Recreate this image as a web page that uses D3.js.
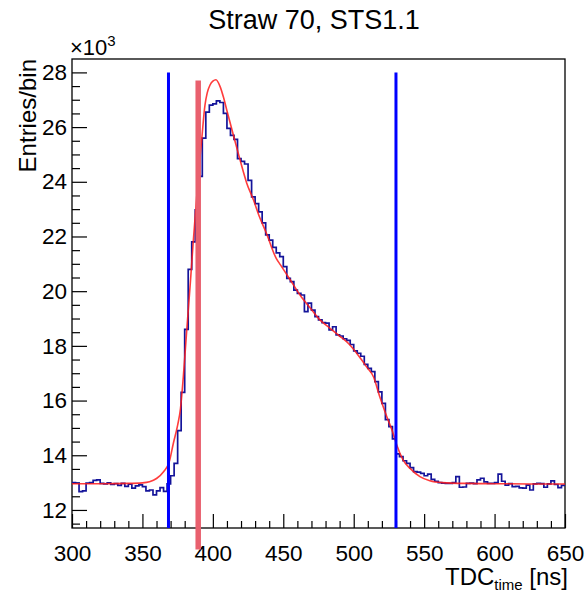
<!DOCTYPE html>
<html>
<head>
<meta charset="utf-8">
<script src="https://cdn.jsdelivr.net/npm/d3@7/dist/d3.min.js"></script>
<style>
  body { margin: 0; background: #fff; }
  svg { display: block; font-family: "Liberation Sans", Arial, sans-serif; }
</style>
</head>
<body>
<svg id="chart" width="587" height="594"></svg>
<script>
// histogram: 2.5 ns bins from 300 ns, entries in units of 10^3
var binLow = 300;
var binWidth = 2.5;
var entries = [
  13.00, 12.98, 12.67, 12.70, 12.98, 13.00, 13.08, 13.10, 12.97, 12.95,
  12.99, 12.93, 12.96, 12.90, 12.97, 12.86, 12.94, 12.80, 12.88, 12.92,
  12.85, 12.70, 12.73, 12.55, 12.70, 12.82, 12.68, 12.95, 13.25, 13.70,
  14.90, 16.30, 18.60, 20.80, 21.80, 22.97, 24.20, 25.60, 26.55, 26.80,
  26.85, 26.96, 26.90, 26.50, 25.95, 25.70, 25.55, 24.85, 24.75, 24.65,
  24.05, 23.45, 23.20, 22.90, 22.50, 22.06, 21.87, 21.60, 21.40, 21.26,
  20.90, 20.47, 20.35, 20.04, 19.92, 19.86, 19.25, 19.56, 19.31, 19.07,
  18.95, 18.85, 18.83, 18.58, 18.70, 18.40, 18.36, 18.26, 18.20, 18.05,
  17.82, 17.73, 17.62, 17.32, 17.18, 17.06, 16.69, 16.32, 15.90, 15.30,
  15.05, 14.60, 14.05, 13.95, 13.80, 13.70, 13.55, 13.40, 13.38, 13.34,
  13.25, 13.31, 13.12, 13.05, 13.00, 12.98, 12.97, 12.97, 13.00, 13.22,
  12.83, 12.84, 12.97, 12.98, 12.96, 13.10, 13.16, 13.03, 12.97, 12.97,
  13.00, 13.31, 13.05, 12.91, 12.96, 12.85, 12.86, 12.81, 12.80, 12.91,
  12.73, 12.95, 12.97, 12.96, 12.83, 12.95, 13.06, 12.93, 12.82, 12.90
];

// fitted curve (time in ns, value in 10^3)
var fitTime = [300, 320, 340, 350, 355, 360, 365, 369, 372, 375, 377, 379, 381.5, 384, 386,
  388, 390, 392, 394.4, 396, 398, 400, 402.2, 405, 407.5, 410, 414.6, 419.3, 424, 428.8,
  433, 438, 445, 448, 455, 462, 469, 476, 483, 490, 497, 504, 509, 514, 518.5,
  523.5, 528, 530.5, 535, 540, 547, 554, 563, 580, 600, 625, 650];
var fitValue = [12.96, 12.96, 12.97, 12.99, 13.03, 13.15, 13.40, 13.75, 14.45, 15.10, 15.70, 16.85, 18.60, 20.30, 21.75,
  23.10, 24.40, 25.50, 26.80, 27.25, 27.54, 27.68, 27.73, 27.50, 27.10, 26.60, 25.70, 24.80, 23.96, 23.34,
  22.73, 22.12, 21.20, 20.96, 20.41, 19.85, 19.39, 18.95, 18.65, 18.36, 18.05, 17.60, 17.24, 16.87, 16.14,
  15.41, 14.80, 14.38, 13.83, 13.52, 13.22, 13.07, 13.00, 12.97, 12.96, 12.95, 12.95];

// window cuts (blue) and the peak marker (red)
var cutTimes = [368.5, 530];
var cutTop = 28.0;
var peakTime = 389.6;
var peakRange = [10.55, 27.7];

var xDomain = [300, 650];
var yDomain = [11.34, 28.49];
var xTicks = [300, 350, 400, 450, 500, 550, 600, 650];
var yTicks = [12, 14, 16, 18, 20, 22, 24, 26, 28];

var svg = d3.select("#chart");
var padL = 72, padR = 565, padT = 59, padB = 528;

var x = d3.scaleLinear().domain(xDomain).range([padL, padR]);
var y = d3.scaleLinear().domain(yDomain).range([padB, padT]);

// title
svg.append("text")
    .attr("x", 314).attr("y", 29)
    .attr("text-anchor", "middle")
    .style("font-size", "27px")
    .text("Straw 70, STS1.1");

// minor ticks
var xMinor = d3.range(300, 651, 10).filter(function (t) { return xTicks.indexOf(t) < 0; });
var yMinor = d3.range(11.5, 28.49, 0.5).filter(function (t) { return yTicks.indexOf(t) < 0; });

svg.append("g")
    .attr("transform", "translate(0," + padB + ")")
    .call(d3.axisBottom(x).tickValues(xMinor).tickSize(-7).tickFormat(""))
    .call(function (g) { g.select(".domain").remove(); });
svg.append("g")
    .attr("transform", "translate(" + padL + ",0)")
    .call(d3.axisLeft(y).tickValues(yMinor).tickSize(-8).tickFormat(""))
    .call(function (g) { g.select(".domain").remove(); });

// major ticks with labels
var xAxis = svg.append("g")
    .attr("transform", "translate(0," + padB + ")")
    .call(d3.axisBottom(x).tickValues(xTicks).tickSize(-14).tickPadding(17).tickFormat(d3.format("d")));
xAxis.select(".domain").remove();
xAxis.selectAll("text").style("font-size", "22.5px").attr("fill", "#000");

var yAxis = svg.append("g")
    .attr("transform", "translate(" + padL + ",0)")
    .call(d3.axisLeft(y).tickValues(yTicks).tickSize(-15).tickPadding(5).tickFormat(d3.format("d")));
yAxis.select(".domain").remove();
yAxis.selectAll("text").style("font-size", "22.5px").attr("fill", "#000");

svg.selectAll(".tick line").attr("stroke", "#000").attr("stroke-width", 1.2);

// frame
svg.append("rect")
    .attr("x", padL).attr("y", padT)
    .attr("width", padR - padL).attr("height", padB - padT)
    .attr("fill", "none").attr("stroke", "#000").attr("stroke-width", 1.3);

// exponent label
var expo = svg.append("text").attr("x", 70).attr("y", 55).style("font-size", "22px");
expo.append("tspan").text("\u00d710");
expo.append("tspan").attr("dy", -9).style("font-size", "15px").text("3");

// axis titles
svg.append("text")
    .attr("transform", "translate(36," + padT + ") rotate(-90)")
    .attr("text-anchor", "end")
    .style("font-size", "24px")
    .text("Entries/bin");

var xt = svg.append("text")
    .attr("x", 568).attr("y", 585)
    .attr("text-anchor", "end")
    .style("font-size", "24px");
xt.append("tspan").text("TDC");
xt.append("tspan").attr("dy", 5).style("font-size", "15px").text("time");
xt.append("tspan").attr("dy", -5).text(" [ns]");

// histogram as steps
var steps = entries.map(function (v, i) { return { t: binLow + i * binWidth, v: v }; });
steps.push({ t: binLow + entries.length * binWidth, v: entries[entries.length - 1] });

var stepLine = d3.line()
    .x(function (d) { return x(d.t); })
    .y(function (d) { return y(d.v); })
    .curve(d3.curveStepAfter);

svg.append("path")
    .datum(steps)
    .attr("d", stepLine)
    .attr("fill", "none")
    .attr("stroke", "#14149a")
    .attr("stroke-width", 1.7);

// fit curve
var fitPts = fitTime.map(function (t, i) { return { t: t, v: fitValue[i] }; });
svg.append("path")
    .datum(fitPts)
    .attr("d", d3.line()
        .x(function (d) { return x(d.t); })
        .y(function (d) { return y(d.v); })
        .curve(d3.curveMonotoneX))
    .attr("fill", "none")
    .attr("stroke", "#ff1a1a")
    .attr("stroke-opacity", 0.85)
    .attr("stroke-width", 1.6);

// cut lines
svg.selectAll(".cut")
    .data(cutTimes)
    .join("line")
    .attr("class", "cut")
    .attr("x1", function (d) { return x(d); })
    .attr("x2", function (d) { return x(d); })
    .attr("y1", y(cutTop))
    .attr("y2", y(yDomain[0]))
    .attr("stroke", "#0000ff")
    .attr("stroke-width", 3);

svg.append("line")
    .attr("x1", x(peakTime)).attr("x2", x(peakTime))
    .attr("y1", y(peakRange[1])).attr("y2", y(peakRange[0]))
    .attr("stroke", "#e9606e")
    .attr("stroke-width", 5.5);
</script>
</body>
</html>
